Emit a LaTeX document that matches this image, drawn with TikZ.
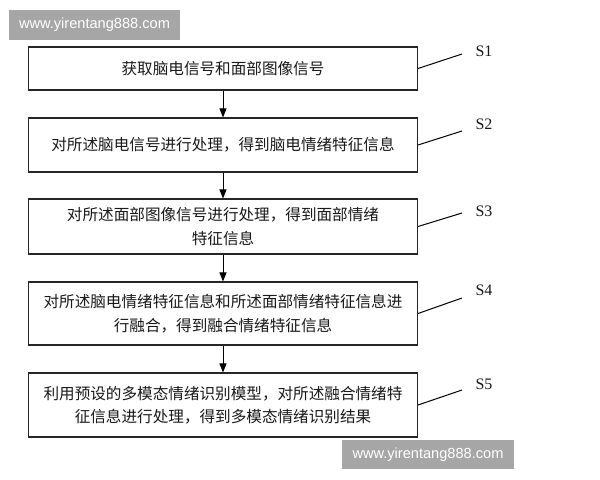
\documentclass[tikz,border=0pt]{standalone}
\usepackage{fontspec}
\setmainfont{Liberation Serif}
\newfontfamily\cjk{Noto Sans CJK SC}
\newfontfamily\wmfont{Liberation Sans}
\usetikzlibrary{arrows.meta}
\begin{document}
\begin{tikzpicture}[x=1bp,y=-1bp,
  stepbox/.style={draw=black!85,line width=1.1bp,minimum width=389bp,inner sep=0pt,
    font=\cjk\fontsize{15.6bp}{23.5bp}\selectfont,align=center,text=black!90},
  flow/.style={line width=1bp,-{Triangle[length=9bp,width=7bp]}},
  tag/.style={line width=1bp},
  slabel/.style={font=\fontsize{16bp}{18bp}\selectfont,text=black!90,inner sep=0pt},
  wm/.style={fill=black!35,text=white,inner sep=0pt,font=\wmfont\fontsize{14.6bp}{16bp}\selectfont}]
\useasboundingbox[fill=white] (0,0) rectangle (600,480);
% watermarks
\node[wm,minimum width=171bp,minimum height=30bp] (wm1) at (94.5,25) {www.yirentang888.com};
\node[wm,minimum width=172bp,minimum height=29bp] (wm2) at (428,454.5) {www.yirentang888.com};
% boxes
\node[stepbox,minimum height=43bp] (b1) at (223,68.5) {获取脑电信号和面部图像信号};
\node[stepbox,minimum height=54bp] (b2) at (223,145) {对所述脑电信号进行处理，得到脑电情绪特征信息};
\node[stepbox,minimum height=55bp] (b3) at (223,226.5) {对所述面部图像信号进行处理，得到面部情绪\\特征信息};
\node[stepbox,minimum height=63bp] (b4) at (223,313.5) {对所述脑电情绪特征信息和所述面部情绪特征信息进\\行融合，得到融合情绪特征信息};
\node[stepbox,minimum height=64bp] (b5) at (223,405) {利用预设的多模态情绪识别模型，对所述融合情绪特\\征信息进行处理，得到多模态情绪识别结果};
% arrows
\draw[flow] (b1) -- (b2);
\draw[flow] (b2) -- (b3);
\draw[flow] (b3) -- (b4);
\draw[flow] (b4) -- (b5);
% step tags
\coordinate (t1) at (462,54);
\coordinate (t2) at (462,131);
\coordinate (t3) at (462,213);
\coordinate (t4) at (462,298);
\coordinate (t5) at (462,390);
\draw[tag] (b1.east) -- (t1);
\draw[tag] (b2.east) -- (t2);
\draw[tag] (b3.east) -- (t3);
\draw[tag] (b4.east) -- (t4);
\draw[tag] (b5.east) -- (t5);
\node[slabel] (s1) at (484,51.5) {S1};
\node[slabel] (s2) at (484,124) {S2};
\node[slabel] (s3) at (484,211) {S3};
\node[slabel] (s4) at (484,290) {S4};
\node[slabel] (s5) at (484,384) {S5};
\end{tikzpicture}
\end{document}
